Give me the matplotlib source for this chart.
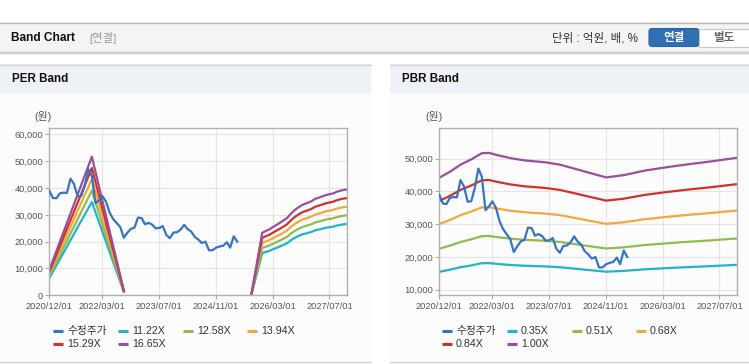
import matplotlib
matplotlib.use("Agg")
import matplotlib.pyplot as plt
from matplotlib.patches import Rectangle, FancyBboxPatch
import numpy as np
import pandas as pd

plt.rcParams['font.family'] = ['Liberation Sans', 'Noto Sans CJK KR', 'DejaVu Sans']

W, H = 749, 364

# ---- data ----
# 수정주가, monthly from 2020/12
price_start = '2020-12-01'
price = [39000, 36300, 36200, 38000, 38300, 38200, 43500, 41500, 36900, 37000,
         41000, 47000, 44500, 34300, 35500, 37000, 35000, 31000, 28500, 27000,
         25500, 21500, 23300, 24800, 25200, 29000, 28800, 26500, 27000, 26400,
         25000, 25100, 25800, 22500, 21300, 23400, 23500, 24500, 26300, 24700,
         23800, 21800, 20800, 19500, 20000, 16800, 16800, 17800, 18200, 18500,
         19800, 17800, 22000, 20000]

# PER band: EPS base (gap where EPS is missing)
per_dates = ['2020-12-01', '2021-12-01', '2022-09-01', '2024-01-01', '2025-09-01',
             '2025-12-01', '2026-01-01', '2026-02-01', '2026-03-01', '2026-04-01',
             '2026-05-01', '2026-06-01', '2026-07-01', '2026-08-01', '2026-09-01',
             '2026-10-01', '2026-11-01', '2026-12-01', '2027-01-01', '2027-02-01',
             '2027-03-01', '2027-04-01', '2027-05-01', '2027-06-01', '2027-07-01',
             '2027-08-01', '2027-09-01', '2027-10-01', '2027-11-01', '2027-12-01']
per_eps = [570, 3105, 110, np.nan, 45,
           1399, 1441, 1477, 1526, 1574,
           1622, 1676, 1730, 1820, 1898,
           1958, 2012, 2048, 2078, 2114,
           2162, 2186, 2216, 2246, 2264,
           2282, 2318, 2342, 2360, 2372]
per_mult = [11.22, 12.58, 13.94, 15.29, 16.65]

# PBR band: BPS base
pbr_dates = ['2020-12-01', '2021-03-01', '2021-06-01', '2021-09-01', '2021-12-01',
             '2022-02-01', '2022-04-01', '2022-08-01', '2022-12-01', '2023-06-01',
             '2023-10-01', '2024-02-01', '2024-06-01', '2024-11-01', '2025-04-01',
             '2025-10-01', '2026-04-01', '2026-10-01', '2027-04-01', '2027-12-01']
pbr_bps = [44200, 46000, 48200, 49800, 51700, 51800, 51200, 50200, 49500, 48900,
           48200, 47000, 45800, 44300, 45000, 46400, 47400, 48300, 49100, 50300]
pbr_mult = [0.35, 0.51, 0.68, 0.84, 1.00]

x_ticks = ['2020-12-01', '2022-03-01', '2023-07-01', '2024-11-01', '2026-03-01', '2027-07-01']
x_labels = [t.replace('-', '/') for t in x_ticks]

price_color = '#3574c4'
band_colors = ['#22b4c6', '#8fbb50', '#f4a73b', '#d3302c', '#9a4e9c']

price_dates = pd.date_range(price_start, periods=len(price), freq='MS')
per_d = pd.to_datetime(per_dates)
pbr_d = pd.to_datetime(pbr_dates)


def rect(x0, y0, x1, y1):
    return [x0 / W, 1 - y1 / H, (x1 - x0) / W, (y1 - y0) / H]


fig = plt.figure(figsize=(W / 100, H / 100), dpi=100)
fig.patch.set_facecolor('white')

# background / page chrome in pixel coords
bg = fig.add_axes([0, 0, 1, 1])
bg.set_xlim(0, W)
bg.set_ylim(H, 0)
bg.axis('off')

bg.add_patch(Rectangle((0, 52), W, 3, fc='#e4e4e4', ec='none'))
bg.add_patch(Rectangle((0, 22), W, 30, fc='#f4f4f4', ec='none'))
bg.plot([0, W], [22.5, 22.5], color='#b9b9b9', lw=1)
bg.plot([0, W], [52, 52], color='#c4c4c4', lw=1)
bg.text(11, 38, 'Band Chart', fontsize=8.6, fontweight='bold', color='#111111', va='center')
bg.text(89, 38, '[연결]', fontsize=8.2, color='#999999', va='center')
bg.text(552, 38.5, '단위 : 억원, 배, %', fontsize=8.3, color='#333333', va='center')
bg.add_patch(FancyBboxPatch((649, 28.5), 50, 18, boxstyle='round,pad=0,rounding_size=3',
                            fc='#2f6fb4', ec='#2a64a3', lw=0.8))
bg.add_patch(Rectangle((699, 28.5), 52, 18, fc='white', ec='#c8c8c8', lw=0.8))
bg.text(674, 38, '연결', fontsize=8.3, fontweight='bold', color='white', ha='center', va='center')
bg.text(724, 38, '별도', fontsize=8.3, fontweight='bold', color='#666666', ha='center', va='center')

for px0, px1, title in [(0, 371, 'PER Band'), (390, W, 'PBR Band')]:
    bg.add_patch(Rectangle((px0, 64), px1 - px0, 298, fc='#fcfcfc', ec='none'))
    bg.add_patch(Rectangle((px0, 64), px1 - px0, 29, fc='#eef1f6', ec='none'))
    bg.plot([px0, px1], [64.5, 64.5], color='#d2d2d2', lw=1)
    bg.plot([px0, px1], [362, 362], color='#d2d2d2', lw=1)
    bg.text(px0 + 11.5, 79, title, fontsize=8.4, fontweight='bold', color='#111111', va='center')

bg.text(43, 117, '(원)', fontsize=7.8, color='#555555', ha='center', va='center')
bg.text(434, 117, '(원)', fontsize=7.8, color='#555555', ha='center', va='center')


def style_axis(ax, ylim, yticks):
    ax.set_facecolor('none')
    ax.set_xlim(pd.Timestamp('2020-12-01'), pd.Timestamp('2027-12-01'))
    ax.set_ylim(*ylim)
    ax.set_xticks(pd.to_datetime(x_ticks))
    ax.set_xticklabels(x_labels)
    ax.set_yticks(yticks)
    ax.set_yticklabels(['{:,}'.format(v) for v in yticks])
    ax.grid(True, color='#e4e4e4', lw=0.8)
    ax.set_axisbelow(True)
    for s in ax.spines.values():
        s.set_color('#b0b0b0')
        s.set_linewidth(1)
    ax.tick_params(axis='both', colors='#aaaaaa', labelcolor='#555555', labelsize=6.7,
                   length=2.6, width=0.8)
    ax.tick_params(axis='x', pad=2.5)
    ax.tick_params(axis='y', pad=1.8)


# PER chart
ax1 = fig.add_axes(rect(49.3, 128, 347.3, 295.3))
style_axis(ax1, (0, 62400), [0, 10000, 20000, 30000, 40000, 50000, 60000])
ax1.plot(price_dates, price, color=price_color, lw=1.6, zorder=3)
for m, c in zip(per_mult, band_colors):
    ax1.plot(per_d, np.array(per_eps) * m, color=c, lw=1.6, zorder=2)

# PBR chart
ax2 = fig.add_axes(rect(439.3, 128.3, 737.3, 295.3))
style_axis(ax2, (8300, 59300), [10000, 20000, 30000, 40000, 50000])
for m, c in zip(pbr_mult, band_colors):
    ax2.plot(pbr_d, np.array(pbr_bps) * m, color=c, lw=1.6, zorder=2)
ax2.plot(price_dates, price, color=price_color, lw=1.6, zorder=3)

# legends
per_labels = ['수정주가'] + ['{:.2f}X'.format(m) for m in per_mult]
pbr_labels = ['수정주가'] + ['{:.2f}X'.format(m) for m in pbr_mult]
all_colors = [price_color] + band_colors
for x0, labels in [(53, per_labels), (442, pbr_labels)]:
    offsets = [0, 65, 130, 194, 0, 65]
    for i, (lab, c) in enumerate(zip(labels, all_colors)):
        lx = x0 + offsets[i]
        ly = 331 if i < 4 else 344
        bg.plot([lx, lx + 10], [ly, ly], color=c, lw=2.2, solid_capstyle='butt')
        bg.text(lx + 14, ly, lab, fontsize=7.7, color='#333333', va='center')

fig.savefig('out.png', dpi=100)
